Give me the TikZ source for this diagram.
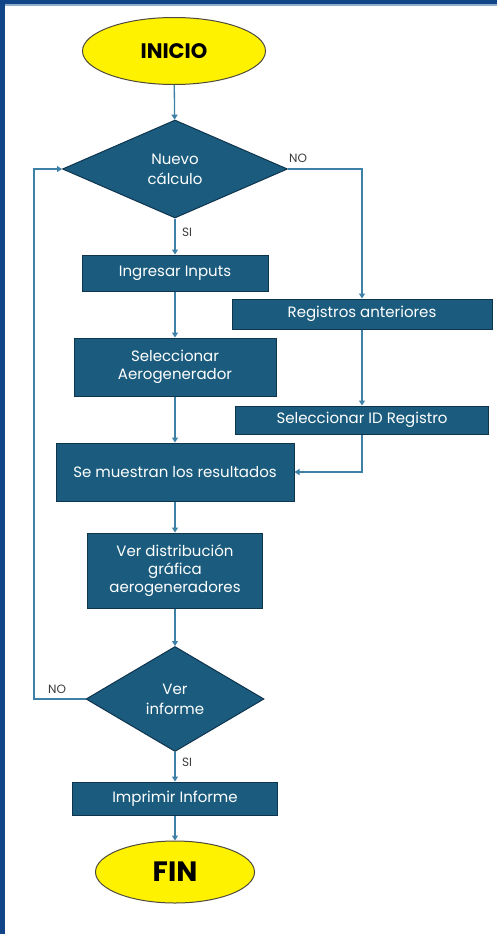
\documentclass[tikz,border=0pt]{standalone}
\usepackage{fontspec}
\setmainfont{Poppins}
\usetikzlibrary{shapes.geometric,arrows.meta}
\definecolor{boxfill}{RGB}{27,92,126}
\definecolor{boxedge}{RGB}{14,52,78}
\definecolor{arrowc}{RGB}{62,128,166}
\definecolor{frameblue}{RGB}{16,70,135}
\definecolor{lblgray}{RGB}{60,60,60}
\tikzset{
  procbox/.style={rectangle, draw=boxedge, line width=1pt, fill=boxfill, text=white,
    inner sep=0pt, align=center, font=\fontsize{15}{18}\selectfont},
  decbox/.style={diamond, draw=boxedge, line width=1pt, fill=boxfill, text=white,
    inner sep=0pt, align=center, font=\fontsize{15}{20}\selectfont},
  termbox/.style={ellipse, draw=black!80!yellow, line width=1pt, fill=yellow, text=black,
    inner sep=0pt, font=\bfseries},
  flow/.style={draw=arrowc, line width=1.3pt, -{Triangle[width=6pt,length=5pt]}},
  lbl/.style={text=lblgray, font=\fontsize{12}{14}\selectfont, inner sep=1pt}
}
\begin{document}
\begin{tikzpicture}[x=1pt,y=-1pt]
\useasboundingbox (0,0) rectangle (497,934);
\fill[white] (0,0) rectangle (497,934);
\fill[frameblue] (0,0) rectangle (5,934);
\fill[frameblue] (0,0) rectangle (497,4);
\fill[frameblue!45] (5,4) rectangle (497,6);

\node[termbox, minimum width=183pt, minimum height=67pt, font=\fontsize{21}{25}\bfseries\selectfont] (inicio) at (174,51) {INICIO};
\node[decbox, minimum width=225pt, minimum height=98pt] (d1) at (175,169) {Nuevo\\cálculo};
\node[procbox, minimum width=186pt, minimum height=36pt] (in) at (175,273) {Ingresar Inputs};
\node[procbox, minimum width=260pt, minimum height=30pt] (reg) at (362,314) {Registros anteriores};
\node[procbox, minimum width=202pt, minimum height=58pt] (sela) at (175,367) {Seleccionar\\Aerogenerador};
\node[procbox, minimum width=253pt, minimum height=28pt] (selid) at (362,420) {Seleccionar ID Registro};
\node[procbox, minimum width=238pt, minimum height=58pt] (res) at (175,472) {Se muestran los resultados};
\node[procbox, minimum width=175pt, minimum height=75pt] (ver) at (175,570.5) {Ver distribución\\gráfica\\aerogeneradores};
\node[decbox, minimum width=178pt, minimum height=105pt] (d2) at (175,699) {Ver\\informe};
\node[procbox, minimum width=205pt, minimum height=33pt] (imp) at (175,798.5) {Imprimir Informe};
\node[termbox, minimum width=159pt, minimum height=62pt, font=\fontsize{28}{32}\bfseries\selectfont] (fin) at (175,872) {FIN};

\coordinate (c1) at (362,169);
\coordinate (c2) at (34,699);
\coordinate (c3) at (34,169);

\draw[flow] (inicio) -- (d1);
\draw[flow] (d1) -- (in);
\draw[flow] (in) -- (sela);
\draw[flow] (sela) -- (res);
\draw[flow] (res) -- (ver);
\draw[flow] (ver) -- (d2);
\draw[flow] (d2) -- (imp);
\draw[flow] (imp) -- (fin);
\draw[flow] (d1.east) -- (c1) -- (reg.north);
\draw[flow] (reg) -- (selid);
\draw[flow] (selid.south) |- (res.east);
\draw[flow] (d2.west) -- (c2) -- (c3) -- (d1.west);

\node[lbl] (no1) at (298,158) {NO};
\node[lbl] (si1) at (187,232) {SI};
\node[lbl] (no2) at (57,689) {NO};
\node[lbl] (si2) at (187,762) {SI};
\end{tikzpicture}
\end{document}
